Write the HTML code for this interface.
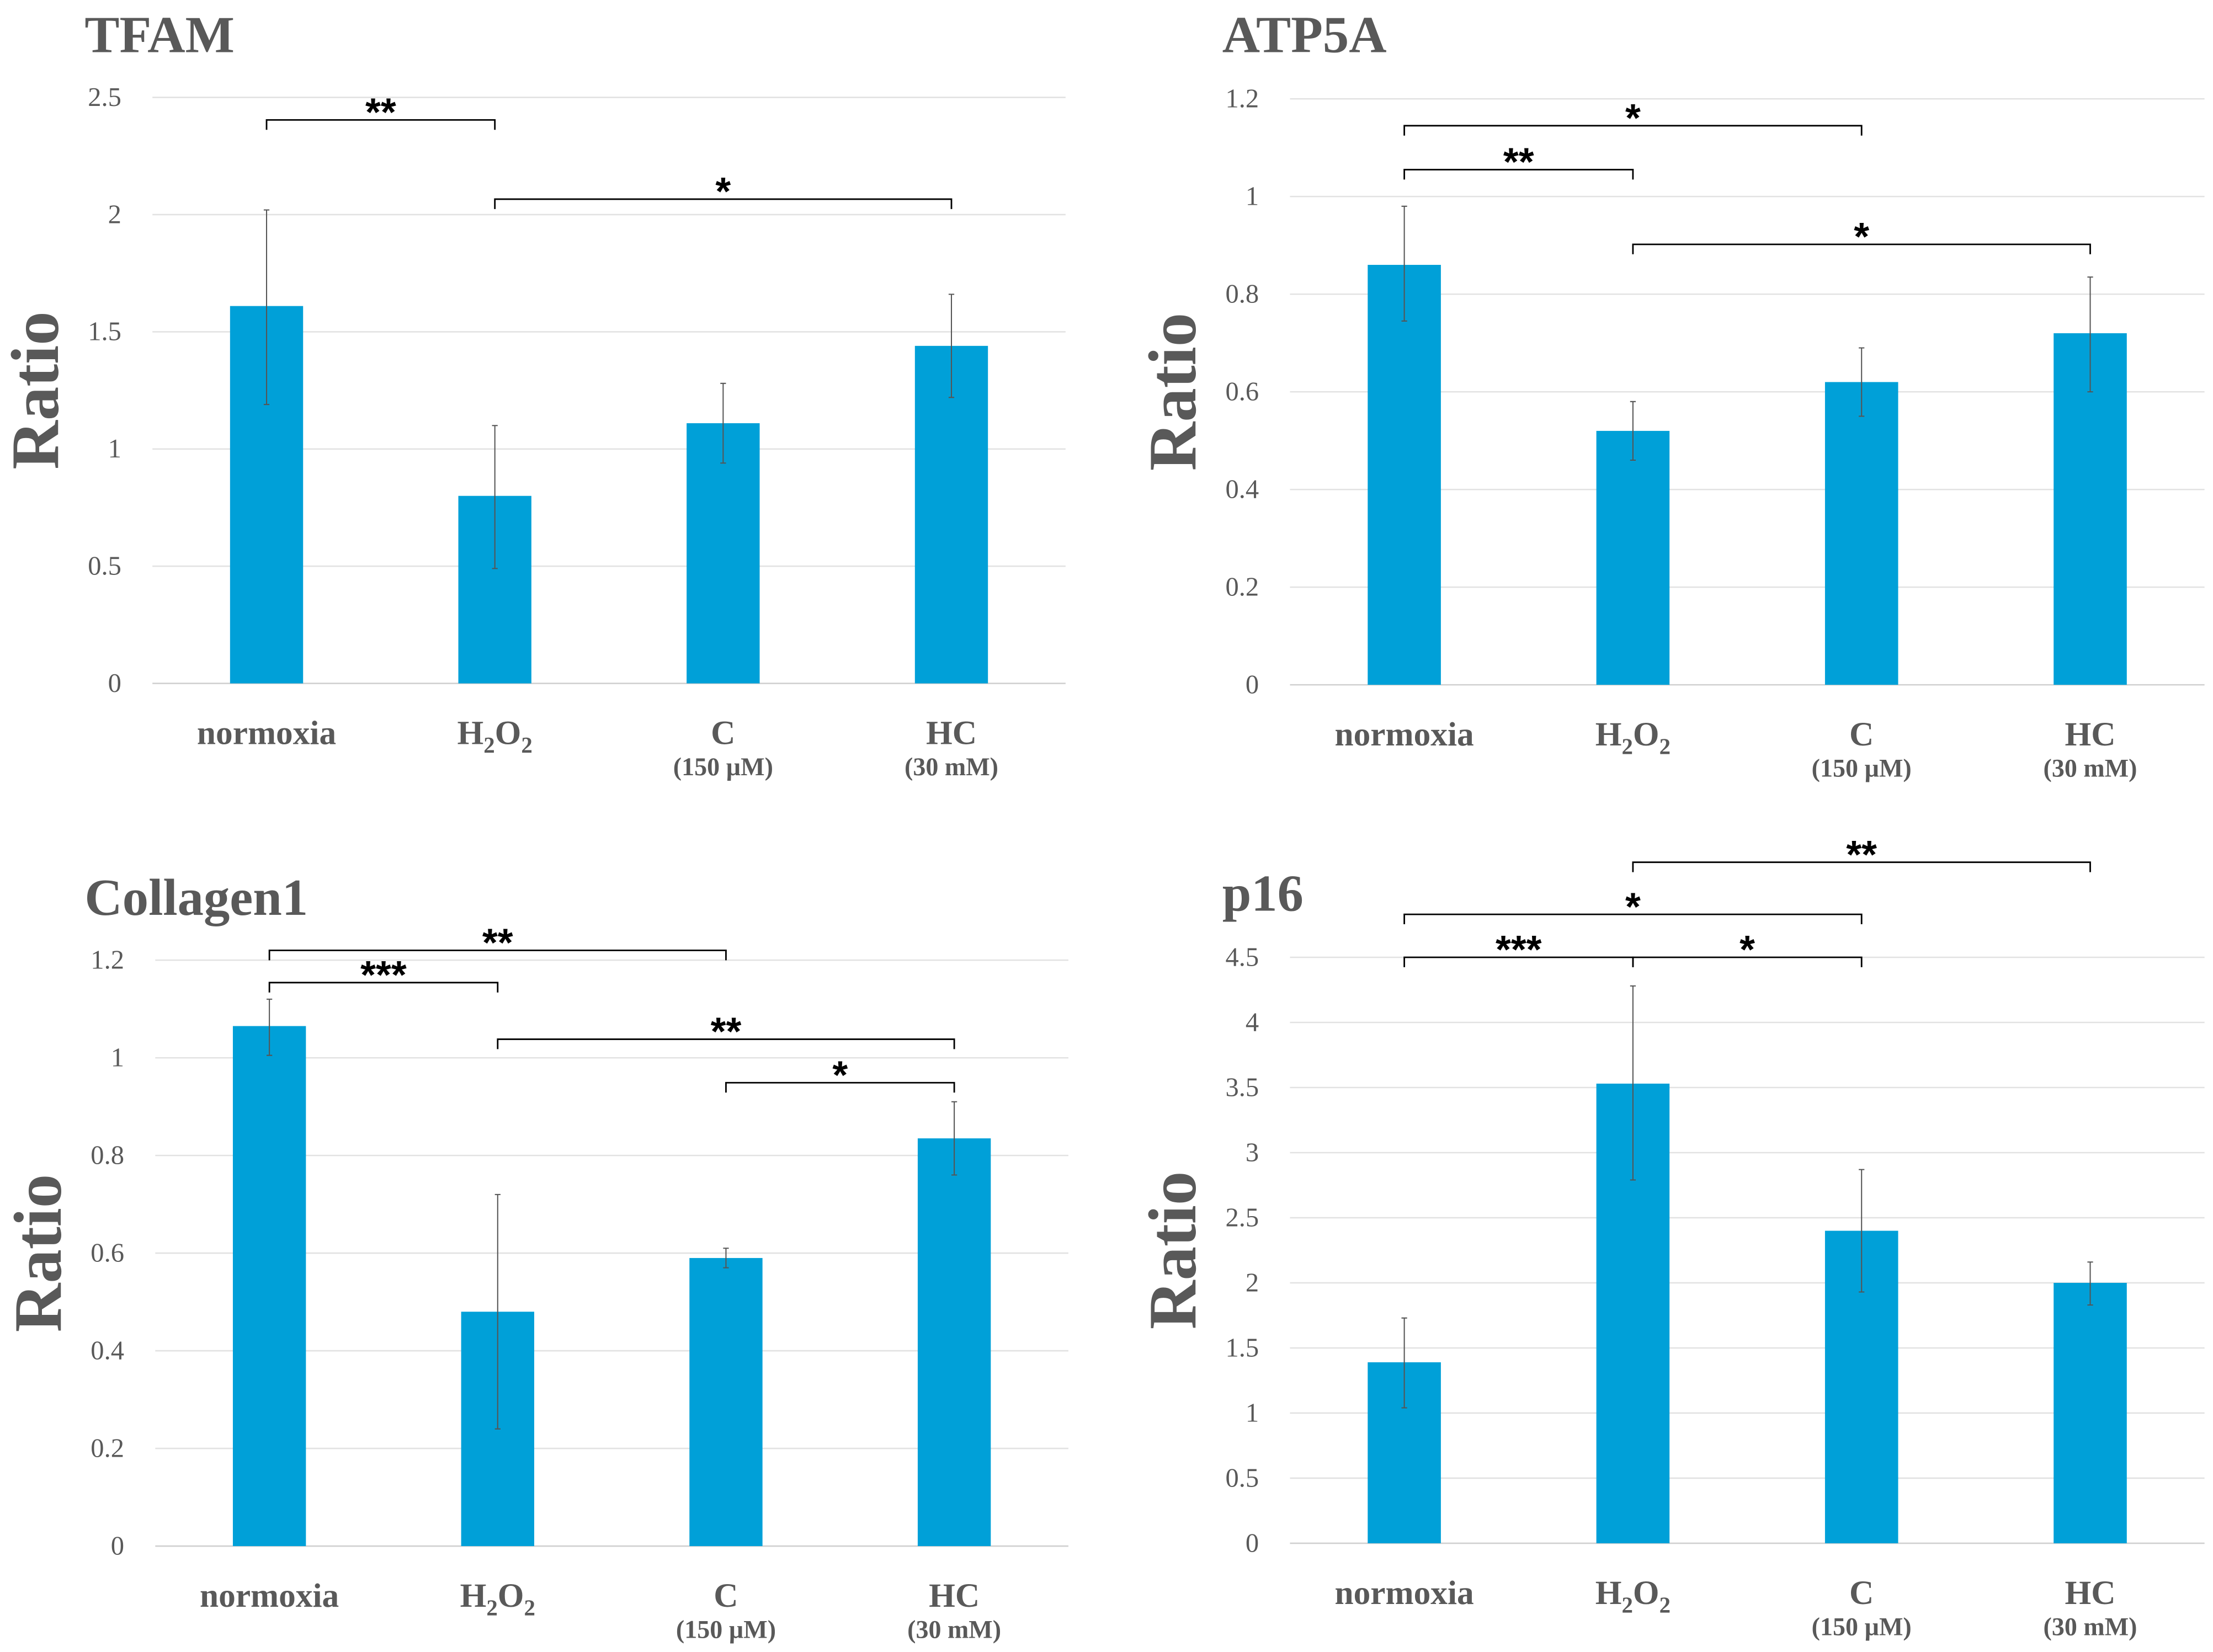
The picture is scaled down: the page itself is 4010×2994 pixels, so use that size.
<!DOCTYPE html>
<html><head><meta charset="utf-8"><style>
html,body{margin:0;padding:0;background:#fff;}
svg{display:block;}
</style></head><body>
<svg id="fig" xmlns="http://www.w3.org/2000/svg" width="4010" height="2994" viewBox="0 0 1568 1170" preserveAspectRatio="none" font-family="'Liberation Serif', serif"></svg>
<script>
const categories = ["normoxia", "H2O2", "C", "HC"];
const subLabels = ["", "", "(150 µM)", "(30 mM)"];

const tfamValues = [1.61, 0.80, 1.11, 1.44];
const tfamErrLow = [1.19, 0.49, 0.94, 1.22];
const tfamErrHigh = [2.02, 1.10, 1.28, 1.66];
const tfamTicks = ["0", "0.5", "1", "1.5", "2", "2.5"];
const tfamBrackets = [[0, 1, 2.404, "**"], [1, 3, 2.066, "*"]];

const atpValues = [0.86, 0.52, 0.62, 0.72];
const atpErrLow = [0.745, 0.46, 0.55, 0.60];
const atpErrHigh = [0.98, 0.58, 0.69, 0.835];
const atpTicks = ["0", "0.2", "0.4", "0.6", "0.8", "1", "1.2"];
const atpBrackets = [[0, 2, 1.145, "*"], [0, 1, 1.055, "**"], [1, 3, 0.902, "*"]];

const colValues = [1.065, 0.48, 0.59, 0.835];
const colErrLow = [1.005, 0.24, 0.57, 0.76];
const colErrHigh = [1.12, 0.72, 0.61, 0.91];
const colTicks = ["0", "0.2", "0.4", "0.6", "0.8", "1", "1.2"];
const colBrackets = [[0, 2, 1.220, "**"], [0, 1, 1.154, "***"], [1, 3, 1.038, "**"], [2, 3, 0.949, "*"]];

const p16Values = [1.39, 3.53, 2.40, 2.00];
const p16ErrLow = [1.04, 2.79, 1.93, 1.83];
const p16ErrHigh = [1.73, 4.28, 2.87, 2.16];
const p16Ticks = ["0", "0.5", "1", "1.5", "2", "2.5", "3", "3.5", "4", "4.5"];
const p16Brackets = [[1, 3, 5.23, "**"], [0, 2, 4.83, "*"], [0, 1, 4.50, "***"], [1, 2, 4.50, "*"]];

const NS = "http://www.w3.org/2000/svg";
const svg = document.getElementById("fig");
function mk(tag, attrs, parent) {
  const e = document.createElementNS(NS, tag);
  for (const k in attrs) e.setAttribute(k, attrs[k]);
  parent.appendChild(e);
  return e;
}

function panel(id, title, layout, values, lo, hi, ticks, brackets) {
  const g = mk("g", {}, svg);
  
  
  const tickStep = parseFloat(ticks[1]);
  const maxV = parseFloat(ticks[ticks.length - 1]);
  const yScale = v => layout.y0 - (v / maxV) * (layout.y0 - layout.yTop);
  const band = (layout.right - layout.left) / categories.length;
  const xScale = i => layout.left + (i + 0.5) * band;
  const bw = band * 0.32;

  const t = mk("text", {x: layout.titleX, y: layout.titleY, "font-size": 37, "font-weight": "bold", fill: "#595959"}, g);
  t.textContent = title;
  
  

  const yt = mk("text", {x: 0, y: 0, "font-size": 48, "font-weight": "bold", fill: "#595959", "text-anchor": "middle",
    transform: "translate(" + (layout.left - 67) + "," + ((layout.y0 + layout.yTop) / 2) + ") rotate(-90)"}, g);
  yt.textContent = "Ratio";
  
  

  ticks.forEach((lab, k) => {
    const y = yScale(k * tickStep);
    const gl = mk("line", {x1: layout.left, x2: layout.right, y1: y, y2: y, stroke: k === 0 ? "#d0d0d0" : "#e2e2e2", "stroke-width": 1}, g);
    
    
    const tl = mk("text", {x: layout.left - 22, y: y + 6, "font-size": 19, fill: "#595959", "text-anchor": "end"}, g);
    tl.textContent = lab;
    
    
  });

  values.forEach((v, i) => {
    const cx = xScale(i);
    const b = mk("rect", {x: cx - bw / 2, y: yScale(v), width: bw, height: layout.y0 - yScale(v), fill: "#00A0D8"}, g);
    
    
    const e = mk("path", {d: "M" + cx + "," + yScale(lo[i]) + "V" + yScale(hi[i]) +
      "M" + (cx - 2) + "," + yScale(lo[i]) + "H" + (cx + 2) + "M" + (cx - 2) + "," + yScale(hi[i]) + "H" + (cx + 2),
      stroke: "#555", "stroke-width": 0.8, fill: "none"}, g);
    
    

    const cl = mk("text", {x: cx, y: layout.y0 + 43, "font-size": 24, "font-weight": "bold", fill: "#595959", "text-anchor": "middle"}, g);
    if (categories[i] === "H2O2") {
      cl.innerHTML = 'H<tspan font-size="16" dy="6">2</tspan><tspan dy="-6">O</tspan><tspan font-size="16" dy="6">2</tspan>';
    } else cl.textContent = categories[i];
    
    
    if (subLabels[i]) {
      const sl = mk("text", {x: cx, y: layout.y0 + 65, "font-size": 18, "font-weight": "bold", fill: "#595959", "text-anchor": "middle"}, g);
      sl.textContent = subLabels[i];
      
      
    }
  });

  brackets.forEach(br => {
    const x1 = xScale(br[0]), x2 = xScale(br[1]), y = yScale(br[2]);
    const p = mk("path", {d: "M" + x1 + "," + (y + 7) + "V" + y + "H" + x2 + "V" + (y + 7), stroke: "#000", "stroke-width": 1.1, fill: "none"}, g);
    
    
    const s = mk("text", {x: (x1 + x2) / 2, y: y + 4, "font-size": 28, "font-weight": "bold", fill: "#000", "text-anchor": "middle", "font-family": "'Liberation Sans', sans-serif"}, g);
    s.textContent = br[3];
    
    
  });
}

panel("tfam", "TFAM", {left: 108, right: 755, y0: 484, yTop: 69, titleX: 60, titleY: 37}, tfamValues, tfamErrLow, tfamErrHigh, tfamTicks, tfamBrackets);
panel("atp5a", "ATP5A", {left: 914, right: 1562, y0: 485, yTop: 70, titleX: 866, titleY: 37}, atpValues, atpErrLow, atpErrHigh, atpTicks, atpBrackets);
panel("collagen1", "Collagen1", {left: 110, right: 757, y0: 1095, yTop: 680, titleX: 60, titleY: 648}, colValues, colErrLow, colErrHigh, colTicks, colBrackets);
panel("p16", "p16", {left: 914, right: 1562, y0: 1093, yTop: 678, titleX: 866, titleY: 645}, p16Values, p16ErrLow, p16ErrHigh, p16Ticks, p16Brackets);
</script>
</body></html>
